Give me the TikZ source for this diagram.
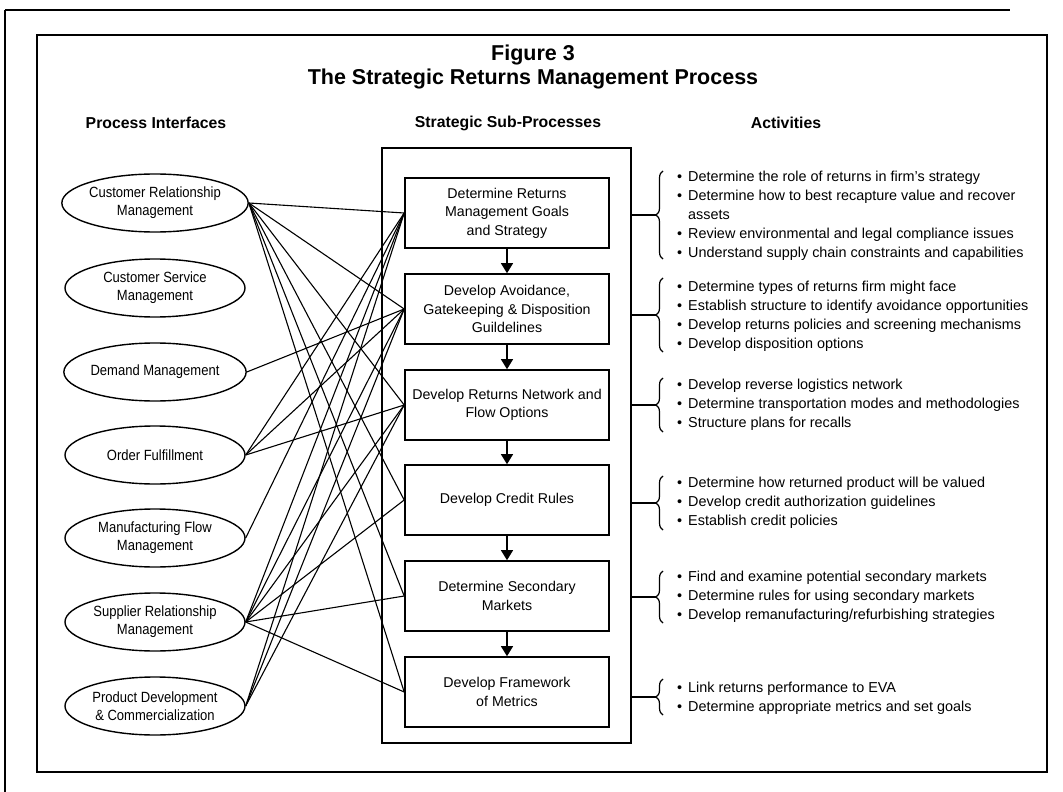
\documentclass[tikz,border=0pt]{standalone}
\usepackage{fontspec}
\setmainfont{Liberation Sans}
\newfontfamily\narrowfont{Liberation Sans}[FakeStretch=0.88]
\usetikzlibrary{shapes.geometric,arrows.meta,decorations.pathreplacing}

\tikzset{
  iface/.style={draw, ellipse, line width=1.4pt, minimum width=180pt, minimum height=58pt,
    inner sep=0pt, align=center, font=\narrowfont\fontsize{14.8}{18}\selectfont},
  subproc/.style={draw, rectangle, line width=1.6pt, minimum width=204pt, minimum height=70pt,
    inner sep=0pt, align=center, font=\fontsize{14.2}{18.5}\selectfont},
  link/.style={line width=1.1pt},
  flow/.style={line width=1.2pt, -{Triangle[width=12pt,length=10pt]}},
  acts/.style={anchor=west, inner sep=0pt, align=left, font=\fontsize{14.4}{19}\selectfont},
  grp/.style={line width=1.2pt, decorate, decoration={brace, amplitude=7pt}},
  head/.style={font=\bfseries\fontsize{15.8}{18}\selectfont}
}
\newcommand{\bul}{\makebox[11pt][l]{\textbullet}}

\begin{document}
\begin{tikzpicture}[x=1pt,y=-1pt]

\useasboundingbox (0,0) rectangle (1063,792);

% frames
\draw[line width=2.2pt] (5,10) -- (1010,10);
\draw[line width=2.2pt] (5,10) -- (5,792);
\draw[line width=1.6pt] (37,35) rectangle (1047,772);

% titles
\node[font=\bfseries\fontsize{21.5}{24}\selectfont] (fig) at (533,55) {Figure 3};
\node[font=\bfseries\fontsize{21.5}{24}\selectfont] (title) at (533,79) {The Strategic Returns Management Process};
\node[head] (h1) at (156,123) {Process Interfaces};
\node[head] (h2) at (508,123) {Strategic Sub-Processes};
\node[head] (h3) at (786,123) {Activities};

% process interfaces
\node[iface] (crm) at (155,203) {Customer Relationship\\Management};
\node[iface] (csm) at (155,288) {Customer Service\\Management};
\node[iface] (dm) at (155,372) {Demand Management};
\node[iface] (of) at (155,455) {Order Fulfillment};
\node[iface] (mfm) at (155,538) {Manufacturing Flow\\Management};
\node[iface] (srm) at (155,622) {Supplier Relationship\\Management};
\node[iface] (pdc) at (155,706) {Product Development\\\& Commercialization};

% sub-processes
\node[draw, line width=1.6pt, minimum width=249pt, minimum height=595pt, inner sep=0pt] (frame) at (506.5,445.5) {};
\node[subproc] (b1) at (507,213) {Determine Returns\\Management Goals\\and Strategy};
\node[subproc] (b2) at (507,309) {Develop Avoidance,\\Gatekeeping \& Disposition\\Guildelines};
\node[subproc] (b3) at (507,405) {Develop Returns Network and\\Flow Options};
\node[subproc] (b4) at (507,500) {Develop Credit Rules};
\node[subproc] (b5) at (507,596) {Determine Secondary\\Markets};
\node[subproc] (b6) at (507,692) {Develop Framework\\of Metrics};

\draw[flow] (b1.south) -- (b2.north);
\draw[flow] (b2.south) -- (b3.north);
\draw[flow] (b3.south) -- (b4.north);
\draw[flow] (b4.south) -- (b5.north);
\draw[flow] (b5.south) -- (b6.north);

% interface links
\draw[link] (crm.east) -- (b1.west);
\draw[link] (crm.east) -- (b2.west);
\draw[link] (crm.east) -- (b3.west);
\draw[link] (crm.east) -- (b4.west);
\draw[link] (crm.east) -- (b5.west);
\draw[link] (crm.east) -- (b6.west);
\draw[link] (dm.east) -- (b2.west);
\draw[link] (of.east) -- (b1.west);
\draw[link] (of.east) -- (b2.west);
\draw[link] (of.east) -- (b3.west);
\draw[link] (mfm.east) -- (b1.west);
\draw[link] (srm.east) -- (b1.west);
\draw[link] (srm.east) -- (b2.west);
\draw[link] (srm.east) -- (b3.west);
\draw[link] (srm.east) -- (b4.west);
\draw[link] (srm.east) -- (b5.west);
\draw[link] (srm.east) -- (b6.west);
\draw[link] (pdc.east) -- (b1.west);
\draw[link] (pdc.east) -- (b2.west);
\draw[link] (pdc.east) -- (b3.west);

% activities
\path (656,215) coordinate (t1);
\path (656,315) coordinate (t2);
\path (656,405) coordinate (t3);
\path (656,503) coordinate (t4);
\path (656,597) coordinate (t5);
\path (656,697) coordinate (t6);

\draw[grp] (663,259) -- (663,171);
\draw[grp] (663,352) -- (663,278);
\draw[grp] (663,432) -- (663,378);
\draw[grp] (663,530) -- (663,476);
\draw[grp] (663,623) -- (663,571);
\draw[grp] (663,715) -- (663,679);

\draw[link] (frame.east |- t1) -- (t1);
\draw[link] (frame.east |- t2) -- (t2);
\draw[link] (frame.east |- t3) -- (t3);
\draw[link] (frame.east |- t4) -- (t4);
\draw[link] (frame.east |- t5) -- (t5);
\draw[link] (frame.east |- t6) -- (t6);

\node[acts] (a1) at (677,216) {\bul Determine the role of returns in firm's strategy\\
  \bul Determine how to best recapture value and recover\\
  \hspace*{11pt}assets\\
  \bul Review environmental and legal compliance issues\\
  \bul Understand supply chain constraints and capabilities};
\node[acts] (a2) at (677,316) {\bul Determine types of returns firm might face\\
  \bul Establish structure to identify avoidance opportunities\\
  \bul Develop returns policies and screening mechanisms\\
  \bul Develop disposition options};
\node[acts] (a3) at (677,405) {\bul Develop reverse logistics network\\
  \bul Determine transportation modes and methodologies\\
  \bul Structure plans for recalls};
\node[acts] (a4) at (677,503) {\bul Determine how returned product will be valued\\
  \bul Develop credit authorization guidelines\\
  \bul Establish credit policies};
\node[acts] (a5) at (677,597) {\bul Find and examine potential secondary markets\\
  \bul Determine rules for using secondary markets\\
  \bul Develop remanufacturing/refurbishing strategies};
\node[acts] (a6) at (677,698) {\bul Link returns performance to EVA\\
  \bul Determine appropriate metrics and set goals};

\end{tikzpicture}
\end{document}
